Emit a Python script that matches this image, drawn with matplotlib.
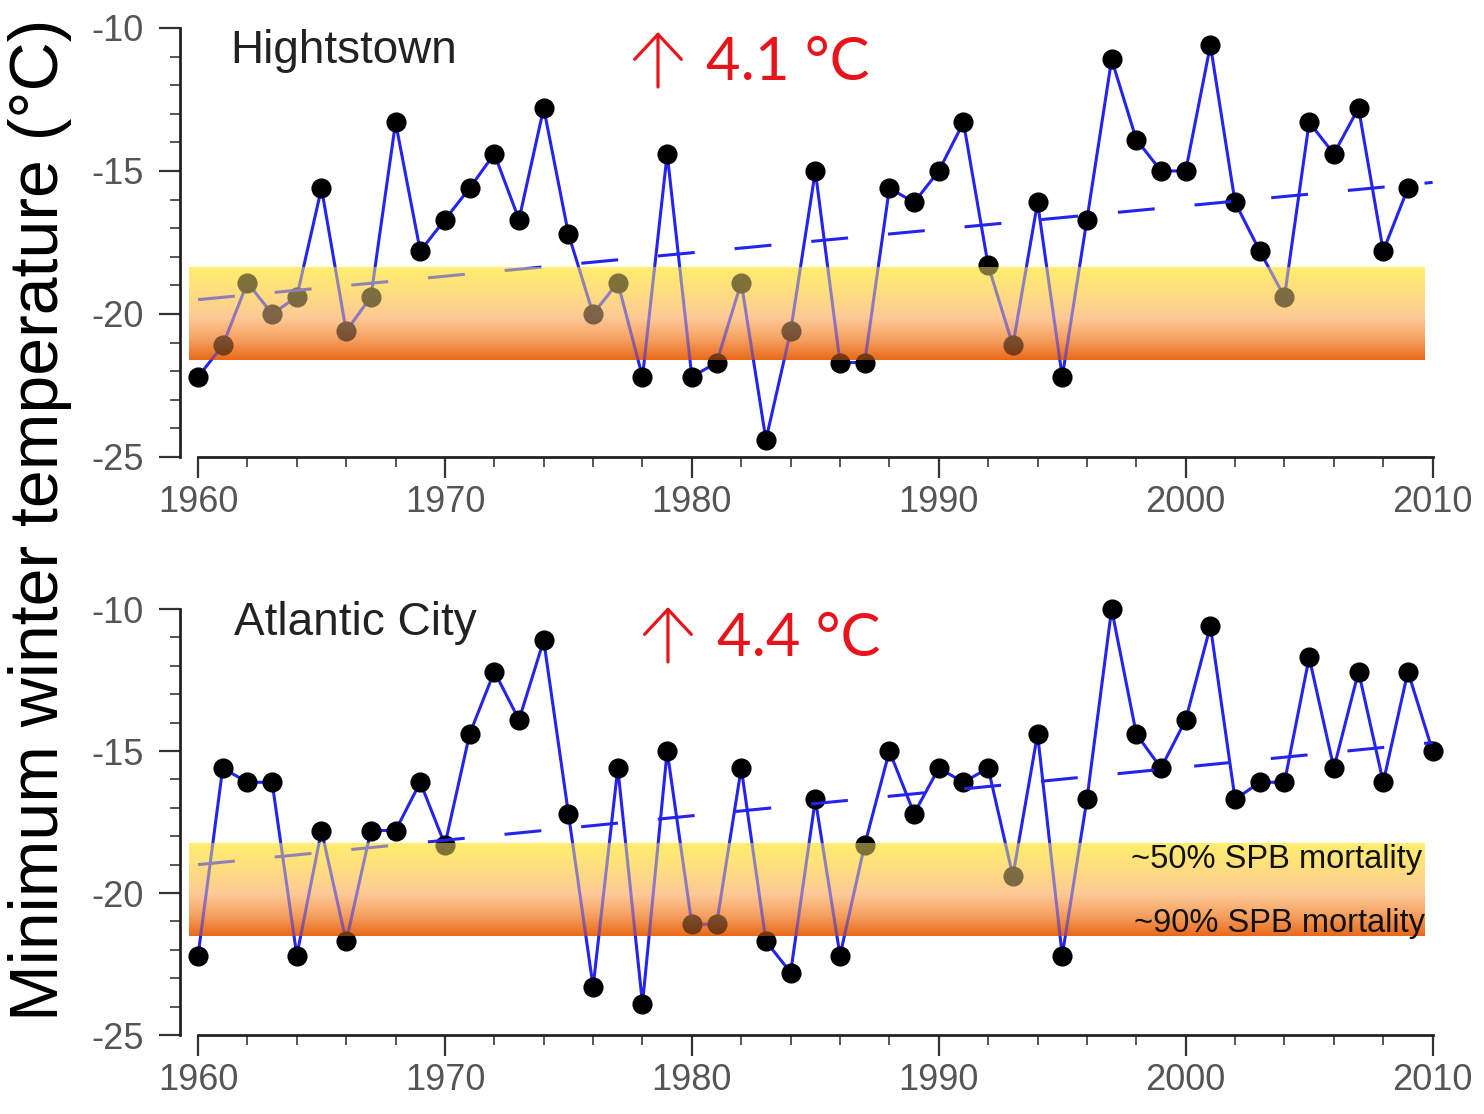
import numpy as np
import matplotlib
matplotlib.use('Agg')
import matplotlib.pyplot as plt
from matplotlib.colors import LinearSegmentedColormap
from matplotlib.ticker import MultipleLocator

plt.rcParams['font.family'] = ['Liberation Sans', 'DejaVu Sans']

# minimum winter temperature, deg C
years_h = list(range(1960, 2010))
temp_h = [-22.2, -21.1, -18.9, -20.0, -19.4, -15.6, -20.6, -19.4, -13.3, -17.8,
          -16.7, -15.6, -14.4, -16.7, -12.8, -17.2, -20.0, -18.9, -22.2, -14.4,
          -22.2, -21.7, -18.9, -24.4, -20.6, -15.0, -21.7, -21.7, -15.6, -16.1,
          -15.0, -13.3, -18.3, -21.1, -16.1, -22.2, -16.7, -11.1, -13.9, -15.0,
          -15.0, -10.6, -16.1, -17.8, -19.4, -13.3, -14.4, -12.8, -17.8, -15.6]

years_a = list(range(1960, 2011))
temp_a = [-22.2, -15.6, -16.1, -16.1, -22.2, -17.8, -21.7, -17.8, -17.8, -16.1,
          -18.3, -14.4, -12.2, -13.9, -11.1, -17.2, -23.3, -15.6, -23.9, -15.0,
          -21.1, -21.1, -15.6, -21.7, -22.8, -16.7, -22.2, -18.3, -15.0, -17.2,
          -15.6, -16.1, -15.6, -19.4, -14.4, -22.2, -16.7, -10.0, -14.4, -15.6,
          -13.9, -10.6, -16.7, -16.1, -16.1, -11.7, -15.6, -12.2, -16.1, -12.2,
          -15.0]

# linear trend end points (1960, 2010)
trend_years = [1960, 2010]
trend_h = [-19.5, -15.4]
trend_a = [-19.0, -14.7]

# SPB mortality band
band_x = [1959.65, 2009.7]
band_h = [-21.6, -18.35]
band_a = [-21.5, -18.25]

stations = ['Hightstown', 'Atlantic City']
rises = ['4.1 \u00b0C', '4.4 \u00b0C']

band_cmap = LinearSegmentedColormap.from_list(
    'band', [(0.0, '#ffee6e'), (0.3, '#fedc82'), (0.55, '#fdc996'),
             (0.78, '#f5a060'), (1.0, '#e8691a')])
blue = '#2424ee'
red = '#e8141c'

fig = plt.figure(figsize=(14.84, 11.14), dpi=100)
ax1 = fig.add_axes([0.1213, 0.5898, 0.8524, 0.3928])
ax2 = fig.add_axes([0.1213, 0.0709, 0.8524, 0.3900])

panels = [(ax1, years_h, temp_h, trend_h, band_h),
          (ax2, years_a, temp_a, trend_a, band_a)]

grad = np.linspace(0, 1, 256).reshape(-1, 1)
for ax, yrs, tmp, trd, bnd in panels:
    ext = [band_x[0], band_x[1], bnd[0], bnd[1]]
    ax.imshow(grad, extent=ext, origin='upper', cmap=band_cmap, aspect='auto', zorder=1)
    ax.plot(yrs, tmp, '-o', color=blue, lw=2.2, mfc='black', mec='black', ms=13.5,
            zorder=3, clip_on=False)
    ax.plot(trend_years, trd, color=blue, lw=2.2, dashes=(12.1, 13.1), zorder=3)
    # band laid again over the data, half transparent
    ax.imshow(grad, extent=ext, origin='upper', cmap=band_cmap, aspect='auto',
              alpha=0.5, zorder=4)

    ax.set_xlim(1959.27, 2010.5)
    ax.set_ylim(-25, -9.7)
    for s in ['top', 'right']:
        ax.spines[s].set_visible(False)
    ax.spines['left'].set_bounds(-25, -10)
    ax.spines['bottom'].set_bounds(1960, 2010)
    for s in ['left', 'bottom']:
        ax.spines[s].set_linewidth(2)
        ax.spines[s].set_color('#222222')
    ax.xaxis.set_major_locator(MultipleLocator(10))
    ax.xaxis.set_minor_locator(MultipleLocator(2))
    ax.set_yticks([-25, -20, -15, -10])
    ax.set_yticklabels(['-25', '-20', '-15', '-10'])
    ax.yaxis.set_minor_locator(MultipleLocator(1))
    ax.tick_params(which='major', length=15, width=1.6, color='#333333',
                   labelsize=26, labelcolor='#555555')
    ax.tick_params(which='minor', length=7.5, width=1.4, color='#555555')
    ax.tick_params(axis='x', which='major', pad=5)
    ax.tick_params(axis='y', which='major', pad=11)

fig.text(0.155, 0.9434, stations[0], fontsize=33, color='#222222')
fig.text(0.158, 0.430, stations[1], fontsize=33, color='#222222')

# thin red "up" arrows next to the trend values
arrow = dict(arrowstyle='->,head_length=0.45,head_width=0.42', lw=2.3, color=red,
             mutation_scale=40, shrinkA=0, shrinkB=0)
ax1.annotate('', xy=(0.4434, 0.9713), xytext=(0.4434, 0.9219),
             xycoords='figure fraction', textcoords='figure fraction',
             arrowprops=arrow, annotation_clip=False)
ax2.annotate('', xy=(0.4501, 0.4551), xytext=(0.4501, 0.4058),
             xycoords='figure fraction', textcoords='figure fraction',
             arrowprops=arrow, annotation_clip=False)
fig.text(0.476, 0.928, rises[0], fontsize=43, color=red, family=['Lato', 'DejaVu Sans'])
fig.text(0.483, 0.411, rises[1], fontsize=43, color=red, family=['Lato', 'DejaVu Sans'])

fig.text(0.958, 0.2208, '~50% SPB mortality', fontsize=23.5, color='#111111',
         ha='right', zorder=6)
fig.text(0.960, 0.1634, '~90% SPB mortality', fontsize=23.5, color='#111111',
         ha='right', zorder=6)

fig.text(0.027, 0.533, 'Minimum winter temperature (\u00b0C)', fontsize=49,
         rotation=90, ha='center', va='center')

fig.savefig('out.png', dpi=100)
